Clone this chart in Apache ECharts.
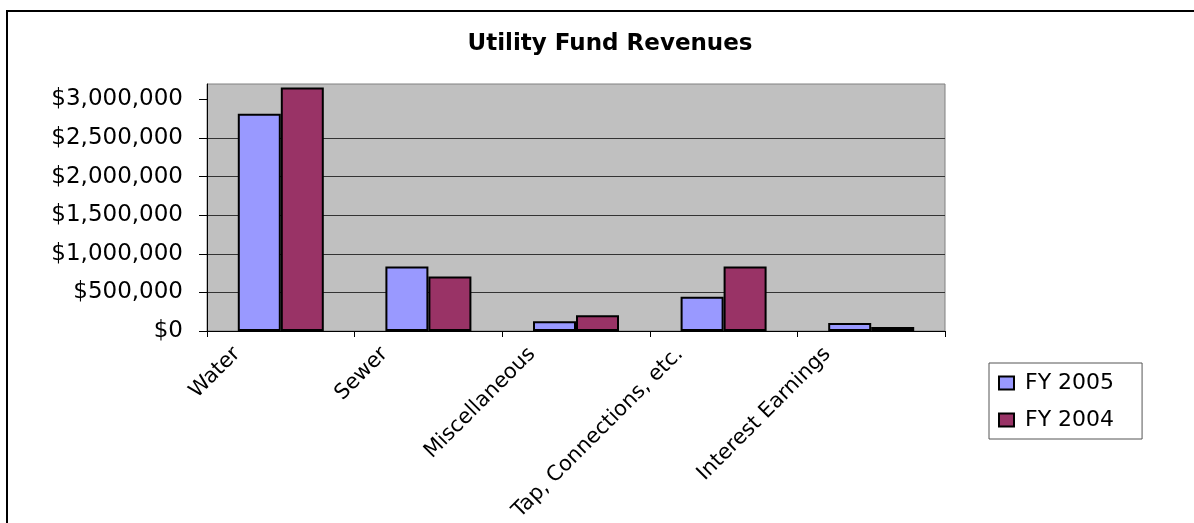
<!DOCTYPE html>
<html>
<head>
<meta charset="utf-8">
<script src="https://cdn.jsdelivr.net/npm/echarts@6/dist/echarts.min.js"></script>
<style>
  html, body { margin: 0; padding: 0; background: #fff; }
  #chart { width: 1194px; height: 523px; }
</style>
</head>
<body>
<div id="chart"></div>
<script>
const categories = ['Water', 'Sewer', 'Miscellaneous', 'Tap, Connections, etc.', 'Interest Earnings'];
const fy2005 = [2815000, 836000, 127000, 444000, 104000];
const fy2004 = [3155000, 705000, 205000, 836000, 52000];
const yTicks = [0, 500000, 1000000, 1500000, 2000000, 2500000, 3000000];

const FONT = 'DejaVu Sans, Arial, sans-serif';

const chart = echarts.init(document.getElementById('chart'));

chart.setOption({
  backgroundColor: '#fff',
  animation: false,
  graphic: [
    {
      type: 'rect',
      z: -10,
      shape: { x: 7, y: 11, width: 1300, height: 600 },
      style: { fill: 'none', stroke: '#000', lineWidth: 2 },
    },
  ],
  title: {
    text: 'Utility Fund Revenues',
    left: 605,
    textAlign: 'center',
    top: 28,
    textStyle: {
      fontFamily: FONT,
      fontSize: 23,
      fontWeight: 'bold',
      color: '#000',
    },
  },
  legend: {
    orient: 'vertical',
    left: 989,
    top: 363,
    padding: [8, 28, 7, 9],
    itemGap: 13,
    itemWidth: 15,
    itemHeight: 13,
    icon: 'rect',
    borderColor: '#555',
    borderWidth: 1,
    textStyle: {
      fontFamily: FONT,
      fontSize: 22,
      lineHeight: 24,
      color: '#000',
      padding: [0, 0, 0, 6],
    },
    data: ['FY 2005', 'FY 2004'],
  },
  grid: {
    left: 207,
    right: 249,
    top: 84,
    bottom: 192,
    outerBoundsMode: 'none',
    containLabel: false,
    show: true,
    backgroundColor: '#C0C0C0',
    borderColor: '#808080',
    borderWidth: 1,
  },
  xAxis: {
    type: 'category',
    data: categories,
    axisLine: { lineStyle: { color: '#000', width: 1 } },
    axisTick: { show: true, length: 6, lineStyle: { color: '#000' } },
    axisLabel: {
      interval: 0,
      rotate: 45,
      margin: -24,
      padding: [0, 62, 0, 0],
      fontFamily: FONT,
      fontSize: 21,
      color: '#000',
    },
    splitLine: { show: false },
  },
  yAxis: {
    type: 'value',
    min: 0,
    max: 3200000,
    interval: 500000,
    axisLine: { show: true, lineStyle: { color: '#000', width: 1 } },
    axisTick: {
      show: true,
      length: 8,
      customValues: yTicks,
      lineStyle: { color: '#000' },
    },
    axisLabel: {
      margin: 24,
      customValues: yTicks,
      fontFamily: FONT,
      fontSize: 23,
      color: '#000',
      formatter: (v) => '$' + Number(v).toLocaleString('en-US'),
    },
    splitLine: {
      show: true,
      showMaxLine: false,
      lineStyle: { color: '#333', width: 1 },
    },
  },
  series: [
    {
      name: 'FY 2005',
      type: 'bar',
      data: fy2005,
      barWidth: 43,
      barGap: '0%',
      itemStyle: { color: '#9999FF', borderColor: '#000', borderWidth: 2 },
    },
    {
      name: 'FY 2004',
      type: 'bar',
      data: fy2004,
      barWidth: 43,
      barGap: '0%',
      itemStyle: { color: '#993366', borderColor: '#000', borderWidth: 2 },
    },
  ],
});
</script>
</body>
</html>
